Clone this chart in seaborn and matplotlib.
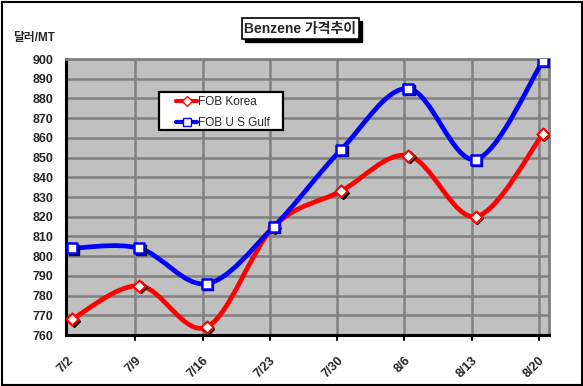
import numpy as np
import seaborn as sns
import pandas as pd
import matplotlib
matplotlib.use("Agg")
from matplotlib import pyplot as plt
from matplotlib.path import Path
from matplotlib.patches import PathPatch, Rectangle
from matplotlib.lines import Line2D
from matplotlib import transforms

dates = ['7/2', '7/9', '7/16', '7/23', '7/30', '8/6', '8/13', '8/20']
fob_korea = [768, 785, 764, 815, 833, 851, 820, 862]
fob_usgulf = [804, 804, 786, 815, 854, 885, 849, 899]
y_ticks = list(range(760, 901, 10))

sns.set_style('white')
plt.rcParams['font.family'] = ['Liberation Sans', 'Noto Sans CJK KR', 'DejaVu Sans']


def smooth_path(xs, ys):
    # Excel-style smoothed line: Catmull-Rom segments as cubic Bezier
    pts = np.column_stack([xs, ys]).astype(float)
    ext = np.vstack([pts[0], pts, pts[-1]])
    verts = [pts[0]]
    codes = [Path.MOVETO]
    for i in range(1, len(ext) - 2):
        p0, p1, p2, p3 = ext[i - 1], ext[i], ext[i + 1], ext[i + 2]
        verts += [p1 + (p2 - p0) / 6, p2 - (p3 - p1) / 6, p2]
        codes += [Path.CURVE4] * 3
    return Path(verts, codes)


fig = plt.figure(figsize=(5.83, 3.86), dpi=100)
ax = fig.add_axes([66 / 583, 1 - 335 / 386, 483 / 583, 276 / 386])
ax.set_facecolor('#C0C0C0')

x = np.arange(len(dates))
df = pd.DataFrame({'x': np.concatenate([x, x]),
                   'y': fob_korea + fob_usgulf,
                   'series': ['FOB Korea'] * len(x) + ['FOB U S Gulf'] * len(x)})

for i in range(1, len(dates)):
    ax.axvline(i - 0.06, color='#808080', lw=1.8, zorder=0)
for v in y_ticks[1:]:
    ax.axhline(v, color='#808080', lw=1.8, zorder=0)

for vals, col in [(fob_korea, '#FF0000'), (fob_usgulf, '#0000FF')]:
    ax.add_patch(PathPatch(smooth_path(x, vals), facecolor='none', edgecolor=col,
                           lw=3.4, zorder=3, capstyle='round', joinstyle='round'))

shadow = transforms.offset_copy(ax.transData, fig=fig, x=1.5, y=-1.5, units='dots')
ax.plot(x, fob_korea, ls='none', marker='D', ms=6, color='black', transform=shadow, zorder=4)
ax.plot(x, fob_usgulf, ls='none', marker='s', ms=7.5, color='black', transform=shadow, zorder=4)

sns.scatterplot(data=df[df.series == 'FOB Korea'], x='x', y='y', marker='D', s=38,
                color='white', edgecolor='#FF0000', linewidth=1.5, zorder=5, ax=ax, legend=False)
sns.scatterplot(data=df[df.series == 'FOB U S Gulf'], x='x', y='y', marker='s', s=60,
                color='white', edgecolor='#0000FF', linewidth=1.8, zorder=5, ax=ax, legend=False)

ax.set_xlim(-0.09, 7.09)
ax.set_ylim(760, 900)
ax.set_yticks(y_ticks)
ax.set_yticklabels([str(v) for v in y_ticks], fontsize=9, fontweight='bold')
ax.set_xticks(x)
ax.set_xticklabels(dates, rotation=45, fontsize=9, fontweight='bold',
                   ha='right', va='center', rotation_mode='anchor')
ax.tick_params(axis='x', length=0, pad=17)
ax.tick_params(axis='y', length=0, pad=9)
ax.set_xlabel('')
ax.set_ylabel('')

for s in ['top', 'right']:
    ax.spines[s].set_color('#808080')
    ax.spines[s].set_linewidth(2)
for s in ['left', 'bottom']:
    ax.spines[s].set_color('black')
    ax.spines[s].set_linewidth(2.2)
for i in range(1, len(dates)):
    ax.plot([i - 0.06, i - 0.06], [760, 757.5], color='black', lw=1.5, clip_on=False, zorder=6)

# legend: white box drawn separately so the side padding can be wider
ax.add_patch(Rectangle((93 / 483, 1 - 130 / 276 + 59 / 276), 124 / 483, 38 / 276,
                       transform=ax.transAxes, facecolor='white', edgecolor='black',
                       lw=1.6, zorder=7))
handles = [Line2D([], [], color='#FF0000', lw=3, marker='D', ms=5, mfc='white', mec='#FF0000'),
           Line2D([], [], color='#0000FF', lw=3, marker='s', ms=6, mfc='white', mec='#0000FF')]
leg = ax.legend(handles, ['FOB Korea', 'FOB U S Gulf'], loc='upper left',
                bbox_to_anchor=(110 / 483, 1 - 96 / 276 + 59 / 276), frameon=False,
                fontsize=8.5, handlelength=1.8, handletextpad=0.1, borderpad=0,
                labelspacing=0.75, borderaxespad=0)
leg.set_zorder(8)

# title box with shadow
fig.patches.append(Rectangle((245 / 583, 1 - 42 / 386), 117 / 583, 21 / 386,
                             transform=fig.transFigure, facecolor='black', edgecolor='black'))
fig.patches.append(Rectangle((242 / 583, 1 - 39 / 386), 117 / 583, 21 / 386,
                             transform=fig.transFigure, facecolor='white', edgecolor='black', lw=1.2))
fig.text(300.5 / 583, 1 - 28.5 / 386, 'Benzene 가격추이', ha='center', va='center',
         fontsize=10, fontweight='bold')
fig.text(13 / 583, 1 - 38 / 386, '달러/MT', ha='left', va='center', fontsize=8.5, fontweight='bold')

fig.patches.append(Rectangle((1.5 / 583, 1.5 / 386), 580 / 583, 383 / 386,
                             transform=fig.transFigure, facecolor='none', edgecolor='black', lw=1.5))

fig.savefig('out.png', dpi=100)
